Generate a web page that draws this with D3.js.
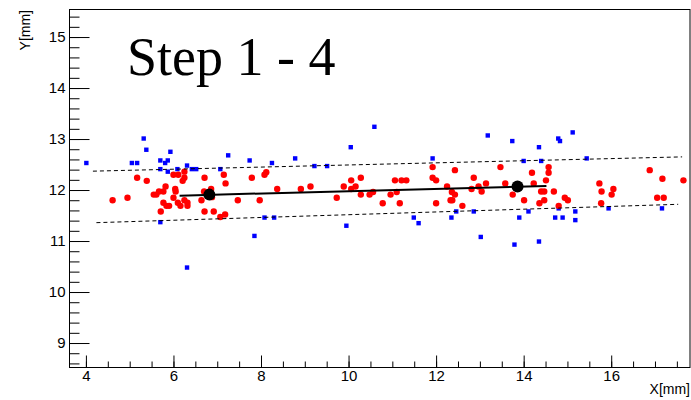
<!DOCTYPE html>
<html>
<head>
<meta charset="utf-8">
<script src="https://cdn.jsdelivr.net/npm/d3@7"></script>
<style>
  body { margin: 0; background: #fff; }
  svg { display: block; }
  .tick text { font-family: "Liberation Sans", Arial, sans-serif; font-size: 15px; fill: #000; }
</style>
</head>
<body>
<svg id="canvas" width="691" height="400"></svg>
<script>
// blue hits (squares)
const blueX = [4.01, 5.32, 5.38, 5.05, 5.17, 5.93, 5.70, 5.81, 5.87, 5.70, 5.87, 6.09, 6.31, 6.42, 6.52, 5.70, 6.31,
  7.07, 7.25, 7.74, 8.25, 8.78, 9.22, 9.51, 10.05, 10.59, 8.08, 8.30, 7.85, 9.95, 11.49, 11.60, 11.92, 12.35, 12.46,
  12.86, 13.02, 13.18, 13.74, 14.00, 13.79, 13.90, 14.11, 14.35, 14.79, 14.83, 15.12, 14.40, 15.44, 14.80, 15.18,
  14.72, 14.89, 15.18, 14.35, 15.94, 17.16];
const blueY = [12.53, 13.01, 12.79, 12.53, 12.53, 12.75, 12.58, 12.53, 12.58, 12.41, 12.36, 12.41, 12.48, 12.41, 12.41, 11.37, 10.48,
  12.41, 12.68, 12.58, 12.53, 12.62, 12.47, 12.47, 12.84, 13.24, 11.46, 11.46, 11.10, 11.30, 11.46, 11.35, 12.62, 11.46, 11.58,
  11.58, 11.08, 13.07, 12.96, 12.57, 10.93, 11.46, 11.58, 12.84, 13.01, 12.96, 13.13, 12.57, 12.62, 11.64, 11.58,
  11.46, 11.46, 11.41, 10.99, 11.64, 11.64];

// red hits (circles)
const redX = [4.61, 4.95, 5.17, 5.39, 5.55, 5.61, 5.67, 5.77, 5.82, 5.77, 5.84, 5.90, 5.71, 6.00, 6.11, 6.25, 6.25, 6.21,
  6.04, 6.05, 6.00, 6.10, 6.16, 6.25, 6.32, 6.32, 6.71, 6.64, 6.71, 6.92, 6.70, 6.86, 6.88, 7.07, 7.18, 7.15, 7.19, 7.47,
  7.79, 7.97, 8.08, 8.12, 8.37, 8.91, 9.13, 9.73, 9.89, 10.06, 10.06, 10.16, 10.28, 10.28, 10.48, 10.56, 10.78, 10.96,
  11.06, 11.10, 11.17, 11.21, 11.32, 11.92, 11.92, 12.00, 12.00, 12.25, 12.36, 12.43, 12.33, 12.37, 12.43, 12.60, 12.81,
  12.86, 12.97, 13.04, 13.14, 13.47, 13.58, 13.75, 14.01, 14.19, 14.23, 14.57, 14.57, 14.51, 14.40, 14.47, 14.36, 14.47,
  14.69, 14.80, 14.94, 15.01, 15.73, 15.78, 16.05, 16.01, 15.77, 16.88, 17.17, 17.65, 17.05, 17.20];
const redY = [11.80, 11.85, 12.24, 12.18, 11.91, 11.91, 11.97, 11.97, 12.07, 11.75, 11.69, 11.69, 11.58, 12.30, 12.30, 12.36, 12.24, 12.18,
  12.02, 11.97, 11.85, 11.75, 11.69, 11.80, 11.75, 11.69, 12.24, 11.80, 11.58, 11.58, 11.97, 12.02, 11.86, 11.47, 11.52, 12.30, 12.13, 11.80,
  12.24, 11.80, 12.30, 12.35, 12.02, 12.02, 12.07, 11.85, 12.07, 12.19, 12.02, 12.07, 12.24, 11.91, 11.91, 11.96, 11.74, 11.91,
  12.19, 11.96, 11.74, 12.19, 12.19, 12.45, 12.24, 12.19, 11.74, 12.07, 11.96, 11.91, 11.80, 11.80, 12.39, 11.69, 12.02,
  12.24, 12.07, 11.97, 12.13, 12.45, 12.13, 11.91, 11.80, 12.34, 12.13, 12.45, 12.34, 12.19, 11.97, 11.97, 11.74, 11.80,
  11.97, 11.69, 11.85, 11.80, 12.13, 11.97, 12.02, 11.91, 11.74, 12.39, 12.22, 12.19, 11.85, 11.85];

// fitted track and its two anchor points
const fitX = [6.14, 14.52];
const fitY = [11.89, 12.08];
const markX = [6.82, 13.86];
const markY = [11.91, 12.07];

// road (dashed) limits
const upperX = [4.16, 17.62];
const upperY = [12.37, 12.65];
const lowerX = [4.24, 17.53];
const lowerY = [11.36, 11.72];

const xMajor = [4, 6, 8, 10, 12, 14, 16];
const yMajor = [9, 10, 11, 12, 13, 14, 15];

const svg = d3.select('#canvas');
const padL = 69.5, padR = 690, padT = 9.5, padB = 367.5;

const x = d3.scaleLinear().domain([3.625, 17.8]).range([padL, padR]);
const y = d3.scaleLinear().domain([8.52, 15.54]).range([padB, padT]);

// minor ticks
const xMinor = d3.range(4, 17.8, 0.5);
const yMinor = d3.range(8.6, 15.54, 0.2);

svg.append('g')
    .attr('transform', 'translate(0,' + padB + ')')
    .call(d3.axisBottom(x).tickValues(xMinor).tickSize(-6).tickFormat('').tickSizeOuter(0))
    .call(g => g.select('.domain').remove());
svg.append('g')
    .attr('transform', 'translate(0,' + padB + ')')
    .call(d3.axisBottom(x).tickValues(xMajor).tickSize(-12).tickPadding(3).tickSizeOuter(0).tickFormat(d3.format('d')))
    .call(g => g.select('.domain').remove());

svg.append('g')
    .attr('transform', 'translate(' + padL + ',0)')
    .call(d3.axisLeft(y).tickValues(yMinor).tickSize(-10).tickFormat('').tickSizeOuter(0))
    .call(g => g.select('.domain').remove());
svg.append('g')
    .attr('transform', 'translate(' + padL + ',0)')
    .call(d3.axisLeft(y).tickValues(yMajor).tickSize(-20).tickPadding(4).tickSizeOuter(0).tickFormat(d3.format('d')))
    .call(g => g.select('.domain').remove());

// frame
svg.append('rect')
    .attr('x', padL).attr('y', padT)
    .attr('width', padR - padL).attr('height', padB - padT)
    .attr('fill', 'none').attr('stroke', '#000').attr('stroke-width', 1);

// axis titles
svg.append('text')
    .attr('x', 690).attr('y', 394)
    .attr('text-anchor', 'end')
    .style('font-family', '"Liberation Sans", Arial, sans-serif')
    .style('font-size', '14px')
    .text('X[mm]');
svg.append('text')
    .attr('transform', 'translate(30,10) rotate(-90)')
    .attr('text-anchor', 'end')
    .style('font-family', '"Liberation Sans", Arial, sans-serif')
    .style('font-size', '14px')
    .text('Y[mm]');

// blue squares
svg.append('g').selectAll('rect')
    .data(d3.range(blueX.length))
    .enter()
    .append('rect')
    .attr('x', i => x(blueX[i]) - 2.2)
    .attr('y', i => y(blueY[i]) - 2.2)
    .attr('width', 4.4)
    .attr('height', 4.4)
    .attr('fill', '#0000ff');

// red circles
svg.append('g').selectAll('circle')
    .data(d3.range(redX.length))
    .enter()
    .append('circle')
    .attr('cx', i => x(redX[i]))
    .attr('cy', i => y(redY[i]))
    .attr('r', 3.2)
    .attr('fill', '#ff0000');

// dashed limits
const line = d3.line().x(d => x(d[0])).y(d => y(d[1]));
[[upperX, upperY], [lowerX, lowerY]].forEach(([xs, ys]) => {
    svg.append('path')
        .attr('d', line(xs.map((v, i) => [v, ys[i]])))
        .attr('fill', 'none')
        .attr('stroke', '#000')
        .attr('stroke-width', 1)
        .attr('stroke-dasharray', '4,3');
});

// fitted track
svg.append('path')
    .attr('d', line(fitX.map((v, i) => [v, fitY[i]])))
    .attr('fill', 'none')
    .attr('stroke', '#000')
    .attr('stroke-width', 2);

svg.append('g').selectAll('circle')
    .data(d3.range(markX.length))
    .enter()
    .append('circle')
    .attr('cx', i => x(markX[i]))
    .attr('cy', i => y(markY[i]))
    .attr('r', 6)
    .attr('fill', '#000');

// step label
svg.append('text')
    .attr('x', 127).attr('y', 75)
    .style('font-family', '"Liberation Serif", "Times New Roman", serif')
    .style('font-size', '54px')
    .text('Step 1 - 4');
</script>
</body>
</html>
